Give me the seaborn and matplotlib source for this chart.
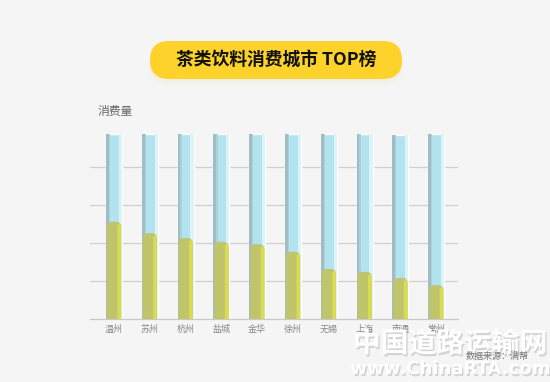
import matplotlib
matplotlib.use("Agg")
import matplotlib.pyplot as plt
import matplotlib.patheffects as pe
from matplotlib.patches import FancyBboxPatch, Rectangle
from matplotlib.transforms import IdentityTransform
import seaborn as sns
import pandas as pd

# chart data
cities = ["温州", "苏州", "杭州", "盐城", "金华", "徐州", "无锡", "上海", "南通", "常州"]
consumption = [2.56, 2.26, 2.13, 2.03, 1.97, 1.77, 1.32, 1.24, 1.08, 0.89]
tube_height = [4.87, 4.87, 4.87, 4.86, 4.86, 4.86, 4.87, 4.87, 4.84, 4.86]
grid_ticks = [1, 2, 3, 4]

title = "茶类饮料消费城市 TOP榜"
ylabel = "消费量"
source = "数据来源：满帮"

BG = "#f5f5f5"

sns.set_style("white")
plt.rcParams["font.family"] = ["Noto Sans CJK SC", "DejaVu Sans"]

df = pd.DataFrame({"city": cities, "value": consumption, "tube": tube_height})

fig = plt.figure(figsize=(5.5, 3.82), dpi=100)
fig.patch.set_facecolor(BG)
ax = fig.add_axes([90 / 550, 63 / 382, 368 / 550, 190 / 382])
ax.set_facecolor(BG)

# background tubes
sns.barplot(data=df, x="city", y="tube", color="#b3e3ee", width=0.45,
            saturation=1, ax=ax, zorder=2)
n_tube = len(ax.patches)
# filled bars
sns.barplot(data=df, x="city", y="value", color="#c0c46a", width=0.40,
            saturation=1, ax=ax, zorder=3)

tubes = ax.patches[:n_tube]
fills = ax.patches[n_tube:]

# tube shading: grey left strip, pale right strip
for p in tubes:
    x, w, h = p.get_x(), p.get_width(), p.get_height()
    ax.add_patch(Rectangle((x, 0), w * 0.18, h, color="#a2bcc4", zorder=2.1, lw=0))
    ax.add_patch(Rectangle((x + w * 0.18, 0), w * 0.08, h, color="#a9d2dc", zorder=2.1, lw=0))
    ax.add_patch(Rectangle((x + w * 0.8, 0), w * 0.2, h, color="#dcf4f8", zorder=2.1, lw=0))

# rounded tops on the filled bars + bright right strip
for p in fills:
    x, w, h = p.get_x(), p.get_width(), p.get_height()
    p.set_visible(False)
    ax.add_patch(FancyBboxPatch((x, -0.3), w, h + 0.3,
                                boxstyle="round,pad=0,rounding_size=0.15",
                                mutation_aspect=0.94, fc="#c0c46a", ec="none",
                                zorder=3))
    ax.add_patch(FancyBboxPatch((x + w * 0.74, -0.3), w * 0.26, h + 0.3 - 0.06,
                                boxstyle="round,pad=0,rounding_size=0.05",
                                mutation_aspect=0.94, fc="#d9dc50", ec="none",
                                zorder=3.1))

ax.set_xlim(-0.67, 9.61)
ax.set_ylim(0, 5.0)
ax.set_yticks(grid_ticks)
ax.yaxis.grid(True, color="#cfcfcf", lw=0.9, zorder=0)
ax.set_axisbelow(True)
ax.tick_params(axis="y", length=0, labelleft=False)
ax.tick_params(axis="x", length=0, labelsize=6.5, colors="#888888", pad=4)
ax.set_xlabel("")
ax.set_ylabel("")
for s in ["top", "right", "left"]:
    ax.spines[s].set_visible(False)
ax.spines["bottom"].set_color("#c8c8c8")
ax.spines["bottom"].set_linewidth(0.9)

# "消费量" label
fig.text(98 / 550, 1 - 112 / 382, ylabel, fontsize=8.5, color="#666666",
         ha="left", va="center")

# title pill with soft shadow (pixel coords)
for i in range(3):
    sh = FancyBboxPatch((150 - i, 300 - 2 * i), 252 + 2 * i, 38,
                        boxstyle="round,pad=0,rounding_size=19",
                        fc="#e8d9a0", ec="none", alpha=0.05,
                        transform=IdentityTransform(), zorder=1)
    fig.patches.append(sh)
pill = FancyBboxPatch((150, 303), 252, 38,
                      boxstyle="round,pad=0,rounding_size=19",
                      fc="#fdd22b", ec="none",
                      transform=IdentityTransform(), zorder=2)
fig.patches.append(pill)
fig.text(276 / 550, 322 / 382, title, fontsize=12.8, fontweight="bold",
         color="#111111", ha="center", va="center", zorder=3)

# watermark
shadow = [pe.withSimplePatchShadow(offset=(1, -1.5), shadow_rgbFace="#bdbdbd", alpha=0.6)]
fig.text(450 / 550, 1 - 344 / 382, "中国道路运输网", fontsize=20, fontweight="bold",
         color="white", ha="center", va="center", path_effects=shadow, zorder=4)
fig.text(450 / 550, 1 - 369 / 382, "www.ChinaRTA.com", fontsize=13, fontweight="bold",
         color="white", ha="center", va="center", path_effects=shadow, zorder=4,
         family=["DejaVu Sans"])
fig.text(497 / 550, 1 - 357 / 382, source, fontsize=6.5, color="#777777",
         ha="center", va="center", zorder=5)

fig.savefig("out.png", dpi=100, facecolor=BG)
